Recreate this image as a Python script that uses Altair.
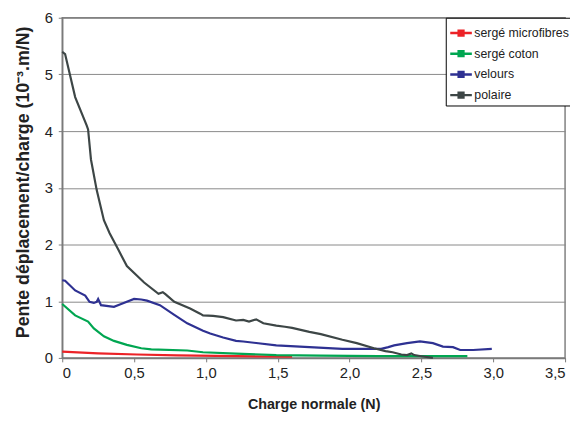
import altair as alt
import pandas as pd

series_names = ["sergé microfibres", "sergé coton", "velours", "polaire"]
series_colors = ["#ec2227", "#00a651", "#2e3192", "#3d4646"]

micro_x = [0.0, 0.25, 0.52, 0.8, 1.21, 1.6]
micro_y = [0.11, 0.08, 0.06, 0.045, 0.03, 0.02]

coton_x = [0.0, 0.09, 0.18, 0.22, 0.29, 0.36, 0.45, 0.55, 0.62, 0.87, 0.98, 1.21, 1.49, 1.8, 2.2, 2.82]
coton_y = [0.95, 0.75, 0.64, 0.52, 0.38, 0.30, 0.23, 0.17, 0.15, 0.13, 0.10, 0.075, 0.05, 0.04, 0.03, 0.03]

velours_x = [0.0, 0.02, 0.09, 0.16, 0.19, 0.22, 0.24, 0.25, 0.27, 0.36, 0.41, 0.5, 0.55, 0.59, 0.68,
             0.78, 0.87, 0.98, 1.03, 1.12, 1.21, 1.26, 1.49, 1.72, 1.95, 2.22, 2.27, 2.31, 2.4, 2.49,
             2.58, 2.65, 2.72, 2.77, 2.86, 2.99]
velours_y = [1.37, 1.36, 1.19, 1.10, 0.99, 0.97, 0.99, 1.04, 0.93, 0.90, 0.95, 1.04, 1.03, 1.01, 0.93,
             0.76, 0.61, 0.48, 0.43, 0.36, 0.30, 0.29, 0.22, 0.19, 0.16, 0.16, 0.19, 0.22, 0.26, 0.29,
             0.26, 0.20, 0.19, 0.14, 0.14, 0.16]

polaire_x = [0.0, 0.02, 0.09, 0.17, 0.18, 0.2, 0.24, 0.29, 0.33, 0.39, 0.45, 0.57, 0.67, 0.70, 0.72,
             0.78, 0.89, 0.96, 0.98, 1.05, 1.12, 1.21, 1.26, 1.30, 1.35, 1.40, 1.49, 1.55, 1.60, 1.72,
             1.80, 1.95, 2.05, 2.17, 2.25, 2.30, 2.36, 2.40, 2.43, 2.45, 2.50, 2.58]
polaire_y = [5.4, 5.36, 4.6, 4.1, 4.03, 3.5, 2.96, 2.43, 2.2, 1.91, 1.62, 1.33, 1.13, 1.16, 1.12,
             0.99, 0.87, 0.78, 0.75, 0.74, 0.72, 0.66, 0.67, 0.64, 0.68, 0.61, 0.57, 0.55, 0.53, 0.46,
             0.42, 0.32, 0.26, 0.17, 0.12, 0.10, 0.06, 0.05, 0.08, 0.05, 0.03, 0.0]

rows = []
for i, (name, xs, ys) in enumerate(zip(series_names,
                                        [micro_x, coton_x, velours_x, polaire_x],
                                        [micro_y, coton_y, velours_y, polaire_y])):
    for j, (x, y) in enumerate(zip(xs, ys)):
        rows.append({"serie": name, "ordre": i, "idx": j, "x": x, "y": y})
df = pd.DataFrame(rows)

font = "Liberation Sans"
x_label_expr = "datum.value == 0 ? '0' : replace(format(datum.value, '.1f'), '.', ',')"
legend_symbol = "M-1,0H1M-0.22,-0.22H0.22V0.22H-0.22Z"

chart = alt.Chart(df).mark_line(strokeWidth=2.2).encode(
    x=alt.X("x:Q",
            scale=alt.Scale(domain=[0, 3.5], nice=False),
            axis=alt.Axis(title="Charge normale (N)", values=[0, 0.5, 1, 1.5, 2, 2.5, 3, 3.5],
                          labelExpr=x_label_expr, grid=False, titlePadding=17,
                          tickSize=4, labelPadding=4, titleFontSize=14.5)),
    y=alt.Y("y:Q",
            scale=alt.Scale(domain=[0, 6], nice=False),
            axis=alt.Axis(title="Pente déplacement/charge (10⁻³.m/N)", values=[0, 1, 2, 3, 4, 5, 6],
                          grid=True, tickSize=4, labelPadding=6, titlePadding=12,
                          titleFontSize=18, titleY=166.5)),
    color=alt.Color("serie:N",
                    scale=alt.Scale(domain=series_names, range=series_colors),
                    legend=alt.Legend(title=None, orient="none", legendX=389, legendY=0,
                                      symbolType=legend_symbol, symbolSize=480,
                                      symbolStrokeWidth=2.5, labelFontSize=12.5,
                                      labelFont=font, labelColor="#222222",
                                      labelExpr="datum.label + '  '",
                                      strokeColor="#000000", padding=3, rowPadding=1,
                                      labelOffset=1, cornerRadius=0, fillColor="#ffffff")),
    order=alt.Order("idx:Q"),
    detail="ordre:N",
).properties(
    width=510, height=345,
    autosize=alt.AutoSizeParams(type="none"),
    padding={"left": 55, "top": 7, "right": 5, "bottom": 53},
).configure_view(
    stroke="#808080", strokeWidth=1.5,
).configure_axis(
    labelFont=font, labelFontSize=15, labelColor="#222222",
    titleFont=font, titleFontWeight="bold", titleColor="#222222",
    domainColor="#7a7a7a", tickColor="#7a7a7a", gridColor="#888888", gridWidth=1,
    domainWidth=1.5,
)

chart.save("out.html", embed_options={"renderer": "svg", "actions": False})
